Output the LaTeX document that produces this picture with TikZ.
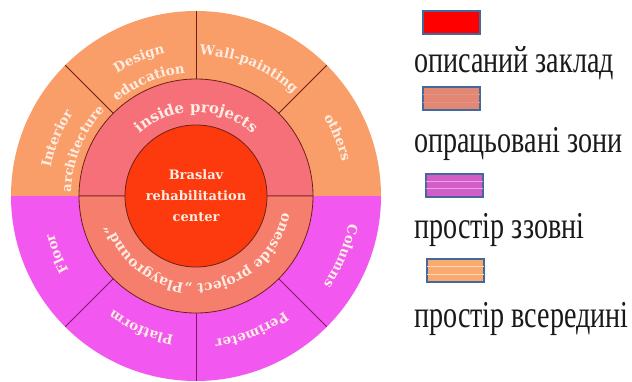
\documentclass[tikz,border=0pt]{standalone}
\usepackage{fontspec}
\setmainfont{Liberation Serif}
\newfontfamily\ringfont{DejaVu Serif}
\newfontfamily\legendfont[FakeStretch=0.74]{Liberation Serif}
\usetikzlibrary{calc}
\usetikzlibrary{decorations.text}

\definecolor{centrered}{RGB}{252,58,14}
\definecolor{insidering}{RGB}{246,112,122}
\definecolor{outsidering}{RGB}{245,126,108}
\definecolor{insideouter}{RGB}{249,158,104}
\definecolor{outsideouter}{RGB}{242,88,240}
\definecolor{labelcream}{RGB}{255,236,226}
\definecolor{rimbrown}{RGB}{110,32,22}
\definecolor{rimpurple}{RGB}{125,25,105}
\definecolor{boxblue}{RGB}{66,104,156}
\definecolor{legendred}{RGB}{255,0,0}
\definecolor{legendsalmon}{RGB}{225,135,115}
\definecolor{legendpink}{RGB}{212,92,200}
\definecolor{legendorange}{RGB}{250,170,110}
\definecolor{legendink}{RGB}{25,25,25}

\tikzset{
    sector rim/.style={
        draw=rimbrown,
        line width=0.8pt,
    },
    ring rim/.style={
        draw=rimbrown,
        line width=0.8pt,
    },
    hub text/.style={
        align=center,
        text=labelcream,
        font=\ringfont\bfseries\fontsize{13}{21}\selectfont,
    },
    legend box/.style={
        draw=boxblue,
        line width=2pt,
        minimum width=57pt,
        minimum height=23pt,
        inner sep=0,
    },
    legend label/.style={
        anchor=base west,
        inner sep=0,
        text=legendink,
        font=\legendfont\fontsize{38}{40}\selectfont,
    },
    box stripe/.style={
        line width=1.2pt,
    },
}

% text on a clockwise arc round the hub
\newcommand\ringtext[5][40]{
    \path[decorate, decoration={text along path, text align=center, text color=labelcream,
        text={|\ringfont\bfseries\fontsize{#4}{#4}\selectfont|#5}}]
        ($(hub)+({#2+#1}:#3)$) arc[start angle={#2+#1}, end angle={#2-#1}, radius=#3];
}

\begin{document}
\begin{tikzpicture}[x=1pt, y=1pt]
    \useasboundingbox (0,0) rectangle (632,381);
    \coordinate (hub) at (196,185);

    % outer ring
    \fill[insideouter] ($(hub)+(185,0)$) arc[start angle=0, end angle=180, radius=185] -- cycle;
    \fill[outsideouter] ($(hub)+(-185,0)$) arc[start angle=180, end angle=360, radius=185] -- cycle;
    \foreach \a in {45,90,135}
    {
        \draw[sector rim] ($(hub)+(\a:117)$) -- ($(hub)+(\a:185)$);
    }
    \foreach \a in {225,270,315}
    {
        \draw[sector rim, draw=rimpurple] ($(hub)+(\a:117)$) -- ($(hub)+(\a:185)$);
    }

    % middle ring and centre
    \filldraw[ring rim, fill=insidering] ($(hub)+(117,0)$) arc[start angle=0, end angle=180, radius=117] -- cycle;
    \filldraw[ring rim, fill=outsidering] ($(hub)+(-117,0)$) arc[start angle=180, end angle=360, radius=117] -- cycle;
    \filldraw[ring rim, fill=centrered] (hub) circle[radius=71];
    \node[hub text] (centre) at (hub) {Braslav\\rehabilitation\\center};

    \ringtext{90}{84}{15}{inside projects}
    \ringtext[100]{-86}{88}{14}{oneside project „Playground“}

    \ringtext{22.5}{150}{13.5}{others}
    \ringtext{67.5}{141}{13.5}{Wall-painting}
    \ringtext{112.5}{146}{13.5}{Design}
    \ringtext{112.5}{123}{13.5}{education}
    \ringtext{157.5}{148}{13.5}{Interior}
    \ringtext{157.5}{125}{13}{architecture}
    \ringtext{-22.5}{155}{13.5}{Columns}
    \ringtext{-67.5}{145}{13.5}{Perimeter}
    \ringtext{-112.5}{141}{13.5}{Platform}
    \ringtext{-157.5}{147}{13.5}{Floor}

    % legend
    \foreach \i/\x/\y/\col in {1/451.5/358/legendred, 2/451.5/282.5/legendsalmon, 3/454.5/196/legendpink, 4/455.5/110.5/legendorange}
    {
        \node[legend box, fill=\col] (box\i) at (\x,\y) {};
    }
    \foreach \b/\col in {2/legendsalmon!88!white, 3/legendpink!55!white, 4/legendorange!45!white}
    {
        \foreach \f in {0.35,0.65}
        {
            \draw[box stripe, \col] ($(box\b.south west)!\f!(box\b.north west)+(1,0)$) -- ($(box\b.south east)!\f!(box\b.north east)+(-1,0)$);
        }
    }
    \foreach \i/\y/\txt in {1/308/описаний заклад, 2/229/опрацьовані зони, 3/143/простір ззовні, 4/54/простір всередині}
    {
        \node[legend label] (label\i) at (414,\y) {\txt};
    }

\end{tikzpicture}
\end{document}
